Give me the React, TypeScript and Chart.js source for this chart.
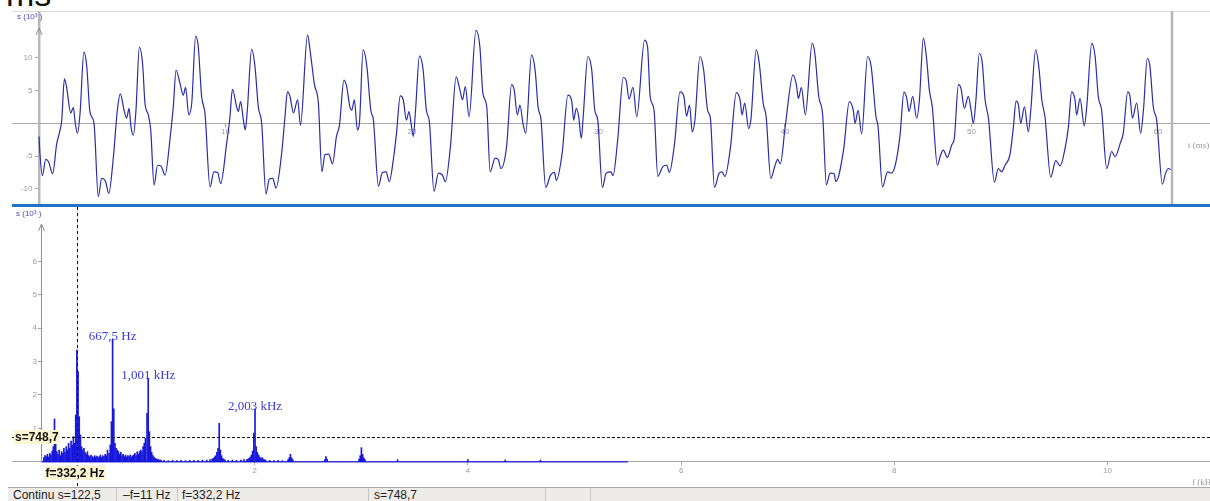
import React, { useEffect, useRef } from 'react';
import { Chart, registerables } from 'chart.js';

Chart.register(...registerables);

// ---------- top graph: recorded signal s(t) ----------
const waveTimeMs = [
  0, 0.05, 0.18, 0.36, 0.52, 0.73, 0.95, 1.09, 1.22, 1.36, 1.48, 1.70, 1.84, 1.95, 2.06, 2.20, 2.41, 2.56, 2.73, 2.95,
  3.18, 3.36, 3.56, 3.74, 3.99, 4.20, 4.36, 4.56, 4.70, 4.83, 4.93, 5.06, 5.20, 5.38, 5.56, 5.68, 5.86, 5.99,
  6.17, 6.36, 6.54, 6.76, 7.02, 7.20, 7.35, 7.56, 7.74, 7.86, 8.03, 8.19, 8.40, 8.54, 8.72, 8.90,
  9.17, 9.38, 9.58, 9.74, 10.06, 10.24, 10.37, 10.60, 10.69, 10.81, 10.96, 11.06, 11.17, 11.40, 11.58, 11.76, 11.94,
  12.17, 12.35, 12.53, 12.71, 13.01, 13.19, 13.32, 13.46, 13.64, 13.87, 14.02, 14.40, 14.55, 14.77, 14.98,
  15.17, 15.33, 15.53, 15.74, 15.95, 16.11, 16.35, 16.50, 16.67, 16.77, 16.91, 17.07, 17.18, 17.38, 17.58, 17.79, 17.93,
  18.20, 18.41, 18.61, 18.78, 19.02, 19.17, 19.37, 19.53, 19.70, 19.84, 19.95, 20.07, 20.19, 20.40, 20.60, 20.77, 20.93,
  21.18, 21.42, 21.63, 21.79, 22.06, 22.37, 22.57, 22.71, 22.86, 23.06, 23.43, 23.64, 23.80, 24.01,
  24.19, 24.46, 24.62, 24.77, 25.07, 25.34, 25.48, 25.65, 25.79, 25.95, 26.10, 26.41, 26.61, 26.76, 26.92,
  27.17, 27.43, 27.64, 27.74, 28.05, 28.36, 28.57, 28.67, 28.81, 28.94, 29.08, 29.18, 29.43, 29.64, 29.80, 29.96,
  30.21, 30.41, 30.66, 30.78, 31.03, 31.33, 31.48, 31.64, 31.85, 32.05, 32.47, 32.63, 32.77, 32.98,
  33.18, 33.45, 33.66, 33.80, 34.07, 34.37, 34.58, 34.72, 34.88, 35.03, 35.17, 35.44, 35.64, 35.85, 36.00,
  36.22, 36.47, 36.61, 36.78, 37.08, 37.39, 37.59, 37.70, 37.84, 38.05, 38.17, 38.46, 38.62, 38.83, 38.99,
  39.24, 39.45, 39.61, 39.75, 40.02, 40.43, 40.61, 40.72, 40.88, 41.09, 41.46, 41.60, 41.81, 42.02,
  42.22, 42.42, 42.63, 42.73, 43.14, 43.45, 43.66, 43.76, 43.92, 44.11, 44.43, 44.62, 44.88, 44.99,
  45.23, 45.50, 45.70, 45.92, 46.17, 46.38, 46.53, 46.65, 46.85, 47.06, 47.21, 47.42, 47.60, 47.74, 47.90,
  48.17, 48.35, 48.49, 48.71, 48.94, 49.08, 49.30, 49.44, 49.62, 49.83, 49.98, 50.10, 50.24, 50.42, 50.58, 50.73, 50.91,
  51.23, 51.44, 51.62, 51.80, 52.07, 52.25, 52.39, 52.52, 52.64, 52.84, 53.05, 53.18, 53.44, 53.62, 53.77, 53.94,
  54.25, 54.52, 54.75, 55.02, 55.20, 55.37, 55.55, 55.64, 55.82, 56.05, 56.18, 56.45, 56.63, 56.80, 56.98,
  57.25, 57.52, 57.70, 57.97, 58.14, 58.38, 58.50, 58.63, 58.86, 59.07, 59.22, 59.43, 59.57, 59.75, 59.93,
  60.24, 60.41, 60.56, 60.68,
];
const waveSignal = [
  -2.0, -4.6, -8.0, -5.5, -5.9, -7.7, -3.1, -1.5, 0.5, 6.8, 5.5, 1.6, 2.4, -0.1, -1.5, 1.5, 10.9, 8.7, 1.8, 0,
  -11.2, -8.4, -8.8, -10.7, -5.1, 2.0, 4.5, 2.0, 0.8, 2.3, -0.5, -1.8, 2.0, 11.6, 8.9, 3.1, 1.3, -1.0,
  -9.4, -6.4, -6.5, -7.9, -2.5, 2.5, 8.1, 6.1, 4.3, 5.5, 1.3, 3.1, 13.3, 11.7, 4.1, 1.5,
  -9.7, -7.4, -7.5, -9.2, -3.1, 1.0, 5.2, 2.5, 1.8, 3.3, 0.5, -1.0, 2.0, 11.3, 8.7, 2.5, 0,
  -10.8, -8.5, -8.4, -9.9, -4.6, 1.0, 4.8, 4.1, 1.6, 3.6, -0.3, 13.5, 10.8, 5.9, 3.1,
  -7.4, -4.8, -4.7, -6.2, -2.0, -0.3, 6.6, 5.6, 2.5, 2.0, 3.6, -1.0, 0, 11.2, 8.7, 2.0, 0.5,
  -9.6, -7.5, -7.4, -8.9, -5.1, -1.5, 4.2, 3.6, 0.5, 1.8, 0, -2.0, 2.0, 10.3, 8.1, 2.0, 0.3,
  -10.4, -7.6, -7.9, -8.9, -3.6, 7.1, 5.1, 3.6, 5.6, 1.0, 14.2, 11.7, 4.6, 2.5,
  -7.4, -5.3, -5.5, -6.9, -3.6, 5.9, 5.1, 1.3, 2.8, 0, -1.5, 10.4, 7.9, 2.5, 0.5,
  -9.8, -7.9, -7.5, -8.7, -4.6, 4.3, 3.3, 0.5, 2.3, 1.0, -2.3, 1.0, 10.2, 8.1, 2.0, 0.5,
  -9.8, -7.6, -7.4, -8.0, -2.5, 7.0, 6.6, 3.7, 5.5, 1.0, 12.7, 11.7, 4.1, 2.0,
  -8.1, -6.6, -6.4, -7.5, -3.3, 4.8, 4.1, 1.1, 2.8, -1.3, 0.5, 10.2, 8.1, 2.0, 0.8,
  -9.8, -7.6, -7.4, -8.1, -3.6, 4.7, 3.6, 1.3, 3.1, -0.8, 0.5, 11.2, 9.2, 3.1, 1.0,
  -8.4, -6.6, -5.5, -6.2, -0.3, 7.4, 5.9, 3.8, 5.5, 1.3, 12.2, 10.7, 4.1, 1.3,
  -9.4, -7.6, -7.7, -8.9, -4.1, 3.3, 2.0, 0, 2.0, -1.6, 10.2, 8.7, 1.0, -0.5,
  -9.7, -7.4, -7.6, -6.3, -1.8, 4.8, 3.8, 1.8, 4.1, 0.8, 3.6, 13.0, 9.7, 5.1, 2.5,
  -6.4, -4.8, -4.1, -5.2, -3.3, -2.3, 5.9, 5.3, 2.3, 4.1, 2.0, 0, 3.6, 10.7, 9.2, 3.6, 0.8,
  -9.0, -6.9, -7.4, -6.4, -4.7, -0.5, 3.4, 2.8, 0, 2.5, -1.3, 2.0, 11.2, 8.4, 3.6, 1.0,
  -8.2, -5.7, -6.5, -3.8, -0.5, 4.8, 3.6, 1.3, 3.8, -0.4, 2.5, 12.2, 10.2, 4.1, 2.0,
  -6.9, -4.3, -5.1, -3.1, -1.5, 4.8, 4.1, 0.8, 3.1, -1.5, 2.0, 9.9, 8.7, 2.5, 0.5,
  -9.3, -7.6, -6.9, -7.1,
];
const timeTicks = [10, 20, 30, 40, 50, 60];
const signalTicks = [-10, -5, 5, 10];
const acquisitionEndMs = 60.75;

// ---------- bottom graph: spectrum ----------
const spectrumFreqKHz = [
  0.022, 0.033, 0.044, 0.055, 0.066, 0.077, 0.088, 0.100, 0.111, 0.122, 0.133, 0.144, 0.155, 0.166, 0.177, 0.188,
  0.199, 0.210, 0.221, 0.232, 0.243, 0.254, 0.265, 0.277, 0.288, 0.299, 0.310, 0.321, 0.332, 0.343, 0.354, 0.365,
  0.376, 0.387, 0.398, 0.409, 0.420, 0.431, 0.442, 0.453, 0.464, 0.475, 0.486, 0.498, 0.509, 0.520, 0.531, 0.542,
  0.553, 0.564, 0.575, 0.586, 0.597, 0.608, 0.619, 0.634, 0.645, 0.656, 0.667, 0.678, 0.689, 0.700, 0.711, 0.722,
  0.733, 0.744, 0.755, 0.766, 0.777, 0.788, 0.799, 0.810, 0.821, 0.832, 0.843, 0.854, 0.865, 0.876, 0.887, 0.898,
  0.909, 0.920, 0.931, 0.942, 0.953, 0.964, 0.975, 0.990, 1.001, 1.012, 1.023, 1.034, 1.045, 1.056, 1.067, 1.078,
  1.089, 1.100, 1.111, 1.122, 1.150, 1.190, 1.230, 1.270, 1.310, 1.350, 1.390, 1.430, 1.470, 1.510, 1.550, 1.580,
  1.601, 1.612, 1.623, 1.634, 1.645, 1.656, 1.667, 1.678, 1.689, 1.700, 1.711, 1.722, 1.750, 1.790, 1.830, 1.870,
  1.900, 1.925, 1.936, 1.947, 1.958, 1.969, 1.980, 1.992, 2.003, 2.014, 2.025, 2.036, 2.047, 2.058, 2.069, 2.080,
  2.091, 2.102, 2.140, 2.180, 2.220, 2.260, 2.313, 2.324, 2.335, 2.346, 2.357, 2.657, 2.668, 2.679, 2.979, 2.990,
  3.001, 3.012, 3.023, 3.034, 3.340, 4.000, 4.350, 4.680,
];
const spectrumAmp = [
  0.12, 0.18, 0.15, 0.22, 0.14, 0.25, 0.20, 0.32, 0.45, 1.28, 0.85, 0.30, 0.22, 0.35, 0.18, 0.30,
  0.25, 0.40, 0.28, 0.45, 0.35, 0.55, 0.40, 0.62, 0.50, 0.75, 0.55, 1.40, 3.34, 2.70, 1.35, 0.80,
  0.45, 0.35, 0.40, 0.28, 0.22, 0.30, 0.18, 0.15, 0.20, 0.15, 0.12, 0.18, 0.14, 0.17, 0.12, 0.15,
  0.20, 0.12, 0.18, 0.15, 0.22, 0.18, 0.35, 0.25, 0.50, 1.20, 3.67, 1.58, 0.55, 0.40, 0.35, 0.30,
  0.22, 0.28, 0.18, 0.22, 0.15, 0.20, 0.14, 0.18, 0.15, 0.20, 0.14, 0.18, 0.20, 0.25, 0.18, 0.30,
  0.22, 0.30, 0.35, 0.30, 0.45, 0.55, 0.70, 1.45, 2.50, 0.90, 0.45, 0.28, 0.18, 0.14, 0.10, 0.08,
  0.07, 0.06, 0.05, 0.05, 0.04, 0.03, 0.04, 0.03, 0.04, 0.03, 0.04, 0.04, 0.04, 0.05, 0.05, 0.06,
  0.08, 0.10, 0.14, 0.18, 0.28, 0.40, 1.15, 0.35, 0.18, 0.10, 0.07, 0.05, 0.04, 0.05, 0.04, 0.05,
  0.06, 0.06, 0.08, 0.10, 0.14, 0.20, 0.32, 0.86, 1.58, 0.45, 0.28, 0.20, 0.14, 0.10, 0.12, 0.08,
  0.06, 0.05, 0.04, 0.03, 0.04, 0.03, 0.06, 0.12, 0.22, 0.12, 0.06, 0.06, 0.15, 0.08, 0.08, 0.18,
  0.42, 0.22, 0.12, 0.06, 0.06, 0.06, 0.05, 0.05,
];
const spectrumEndKHz = 5.5;
const freqTicks = [2, 4, 6, 8, 10];
const ampTicks = [1, 2, 3, 4, 5, 6];
const peakFreqKHz = [0.6675, 1.001, 2.003];
const peakAmp = [3.67, 2.5, 1.58];
const peakLabels = ['667,5 Hz', '1,001 kHz', '2,003 kHz'];
const cursorFreqKHz = 0.3322;
const cursorAmp = 0.7487;
const cursorFreqLabel = 'f=332,2 Hz';
const cursorAmpLabel = 's=748,7';
const statusTexts = ['Continu s=122,5', '\u2013f=11 Hz', 'f=332,2 Hz', 's=748,7'];

const TICK_FONT = { family: '"Liberation Sans", Arial, sans-serif', size: 8 };
const TICK_COLOR = '#9c9c9c';

function noPad(s: any, horizontal: boolean) {
  if (horizontal) s.height = 0;
  else s.width = 0;
  s.paddingTop = 0;
  s.paddingBottom = 0;
  s.paddingLeft = 0;
  s.paddingRight = 0;
}

function drawArrow(ctx: CanvasRenderingContext2D, x: number, yTop: number) {
  ctx.beginPath();
  ctx.moveTo(x - 3, yTop + 7);
  ctx.lineTo(x, yTop);
  ctx.lineTo(x + 3, yTop + 7);
  ctx.stroke();
}

const waveDecor = {
  id: 'waveDecor',
  afterDraw(chart: any) {
    const { ctx, scales } = chart;
    const x = scales.x, y = scales.y;
    const x0 = x.getPixelForValue(0);
    ctx.save();
    ctx.strokeStyle = '#8e8e8e';
    ctx.lineWidth = 1;
    drawArrow(ctx, x0, 17);
    const xe = Math.round(x.getPixelForValue(acquisitionEndMs));
    ctx.strokeStyle = '#b6b6b6';
    ctx.lineWidth = 2.5;
    ctx.beginPath();
    ctx.moveTo(xe, 0);
    ctx.lineTo(xe, chart.height);
    ctx.stroke();
    ctx.fillStyle = '#4a4ab4';
    ctx.font = '8px "Liberation Sans", Arial, sans-serif';
    ctx.textBaseline = 'middle';
    ctx.fillText('s (10\u00b3 )', 5, 6);
    ctx.fillStyle = '#9a9a9a';
    ctx.font = '9px "Liberation Serif", serif';
    ctx.fillText('t (ms)', 1176, y.getPixelForValue(0) + 22);
    ctx.restore();
  },
};

const spectrumDecor = {
  id: 'spectrumDecor',
  beforeDatasetsDraw(chart: any) {
    const { ctx, scales } = chart;
    const x = scales.x, y = scales.y;
    const cx = Math.round(x.getPixelForValue(cursorFreqKHz)) + 0.5;
    ctx.save();
    ctx.strokeStyle = '#f1e16a';
    ctx.lineWidth = 1;
    ctx.beginPath();
    ctx.moveTo(cx, 0);
    ctx.lineTo(cx, y.getPixelForValue(0));
    ctx.stroke();
    ctx.restore();
  },
  afterDatasetsDraw(chart: any) {
    const { ctx, scales } = chart;
    const x = scales.x, y = scales.y;
    ctx.save();
    // y axis line with arrow
    const ax = Math.round(x.getPixelForValue(0)) + 0.5;
    ctx.strokeStyle = '#8e8e8e';
    ctx.lineWidth = 1;
    ctx.beginPath();
    ctx.moveTo(ax, 17);
    ctx.lineTo(ax, y.getPixelForValue(0));
    ctx.stroke();
    drawArrow(ctx, ax, 17);
    // titles
    ctx.fillStyle = '#4a4ab4';
    ctx.font = '8px "Liberation Sans", Arial, sans-serif';
    ctx.textBaseline = 'middle';
    ctx.fillText('s (10\u00b3 )', 4, 7);
    ctx.fillStyle = '#9a9a9a';
    ctx.font = '9px "Liberation Serif", serif';
    ctx.fillText('f (kHz)', 1180, y.getPixelForValue(0) + 21);
    // peak labels
    ctx.fillStyle = '#3a3ad2';
    ctx.font = '13px "Liberation Serif", serif';
    ctx.textAlign = 'center';
    ctx.textBaseline = 'alphabetic';
    peakLabels.forEach((txt, i) => {
      ctx.fillText(txt, x.getPixelForValue(peakFreqKHz[i]), y.getPixelForValue(peakAmp[i]) + 1);
    });
    // cursor lines
    const cx = Math.round(x.getPixelForValue(cursorFreqKHz)) + 0.5;
    const cy = Math.round(y.getPixelForValue(cursorAmp)) + 0.5;
    ctx.strokeStyle = '#111';
    ctx.setLineDash([3, 3]);
    ctx.beginPath();
    ctx.moveTo(cx, 0);
    ctx.lineTo(cx, chart.height);
    ctx.stroke();
    ctx.setLineDash([3, 2]);
    ctx.beginPath();
    ctx.moveTo(0, cy);
    ctx.lineTo(chart.width, cy);
    ctx.stroke();
    ctx.setLineDash([]);
    // cursor value boxes
    ctx.font = 'bold 12px "Liberation Sans", Arial, sans-serif';
    ctx.textAlign = 'left';
    ctx.textBaseline = 'middle';
    ctx.fillStyle = '#fbf5d2';
    ctx.fillRect(2, cy - 7.5, 46, 14);
    ctx.fillStyle = '#111';
    ctx.fillText(cursorAmpLabel, 3, cy);
    const fy = y.getPixelForValue(0) + 4;
    ctx.fillStyle = '#fbf5d2';
    ctx.fillRect(cx - 33, fy, 61, 14);
    ctx.fillStyle = '#111';
    ctx.fillText(cursorFreqLabel, cx - 32, fy + 7.5);
    ctx.restore();
  },
};

function WaveChart() {
  const ref = useRef<HTMLCanvasElement>(null);
  useEffect(() => {
    const chart = new Chart(ref.current as HTMLCanvasElement, {
      type: 'line',
      data: {
        datasets: [
          {
            data: waveTimeMs.map((t, i) => ({ x: t, y: waveSignal[i] })),
            borderColor: '#2b2baa',
            borderWidth: 1.2,
            pointRadius: 0,
            cubicInterpolationMode: 'monotone',
            fill: false,
          },
        ],
      },
      options: {
        animation: false,
        responsive: false,
        events: [],
        layout: { padding: 0 },
        plugins: { legend: { display: false }, tooltip: { enabled: false } },
        scales: {
          x: {
            type: 'linear',
            min: -1.448,
            max: 62.79,
            position: { y: 0 } as any,
            afterFit: (s: any) => noPad(s, true),
            afterBuildTicks: (s: any) => { s.ticks = timeTicks.map((value) => ({ value })); },
            grid: { drawOnChartArea: false, drawTicks: true, tickLength: 3, color: '#a4a4a4' },
            border: { color: '#a8a8a8', width: 1 },
            ticks: { font: TICK_FONT, color: TICK_COLOR, padding: 1, maxRotation: 0, autoSkip: false },
          },
          y: {
            type: 'linear',
            min: -12.47,
            max: 17.15,
            position: { x: 0 } as any,
            afterFit: (s: any) => noPad(s, false),
            afterBuildTicks: (s: any) => { s.ticks = signalTicks.map((value) => ({ value })); },
            grid: { drawOnChartArea: false, drawTicks: true, tickLength: 3, color: '#a4a4a4' },
            border: { color: '#b8b8b8', width: 2.5 },
            ticks: { font: TICK_FONT, color: TICK_COLOR, autoSkip: false, callback: (v: any) => `${v}   ` },
          },
        },
      },
      plugins: [waveDecor],
    });
    return () => chart.destroy();
  }, []);
  return (
    <canvas
      ref={ref}
      width={1198}
      height={194}
      style={{ position: 'absolute', left: 12, top: 11, width: 1198, height: 194, display: 'block' }}
    />
  );
}

function SpectrumChart() {
  const ref = useRef<HTMLCanvasElement>(null);
  useEffect(() => {
    const chart = new Chart(ref.current as HTMLCanvasElement, {
      type: 'bar',
      data: {
        datasets: [
          {
            type: 'bar',
            data: spectrumFreqKHz.map((f, i) => ({ x: f, y: spectrumAmp[i] })),
            backgroundColor: '#1818dc',
            borderWidth: 0,
            barThickness: 1,
            grouped: false,
          } as any,
          {
            type: 'line',
            data: [
              { x: 0, y: 0 },
              { x: spectrumEndKHz, y: 0 },
            ],
            borderColor: '#3434d4',
            borderWidth: 1.5,
            pointRadius: 0,
          } as any,
        ],
      },
      options: {
        animation: false,
        responsive: false,
        events: [],
        layout: { padding: 0 },
        plugins: { legend: { display: false }, tooltip: { enabled: false } },
        scales: {
          x: {
            type: 'linear',
            min: -0.2767,
            max: 10.961,
            offset: false,
            position: { y: 0 } as any,
            afterFit: (s: any) => noPad(s, true),
            afterBuildTicks: (s: any) => { s.ticks = freqTicks.map((value) => ({ value })); },
            grid: { offset: false, drawOnChartArea: false, drawTicks: true, tickLength: 3, color: '#a4a4a4' },
            border: { color: '#a6a6a6', width: 1 },
            ticks: { font: TICK_FONT, color: TICK_COLOR, padding: 1, maxRotation: 0, autoSkip: false },
          },
          y: {
            type: 'linear',
            min: -0.7275,
            max: 7.626,
            position: { x: 0 } as any,
            afterFit: (s: any) => noPad(s, false),
            afterBuildTicks: (s: any) => { s.ticks = ampTicks.map((value) => ({ value })); },
            grid: { drawOnChartArea: false, drawTicks: true, tickLength: 3, color: '#a4a4a4' },
            border: { display: false },
            ticks: { font: TICK_FONT, color: TICK_COLOR, autoSkip: false, callback: (v: any) => `${v}  ` },
          },
        },
      },
      plugins: [spectrumDecor],
    });
    return () => chart.destroy();
  }, []);
  return (
    <canvas
      ref={ref}
      width={1198}
      height={279}
      style={{ position: 'absolute', left: 12, top: 207, width: 1198, height: 279, display: 'block' }}
    />
  );
}

const statusLeft = [13, 123, 182, 374];
const statusDividers = [116, 177, 368, 545, 590];

export default function App() {
  return (
    <div
      style={{
        position: 'fixed',
        left: 0,
        top: 0,
        width: 1210,
        height: 501,
        overflow: 'hidden',
        background: '#ffffff',
        fontFamily: '"Liberation Sans", Arial, sans-serif',
      }}
    >
      <div style={{ position: 'absolute', left: 6, top: -23, fontSize: 34, lineHeight: '34px', color: '#111' }}>ms</div>
      <div style={{ position: 'absolute', left: 12, top: 11, width: 1198, height: 1, background: '#dcdcdc' }} />
      <WaveChart />
      <div style={{ position: 'absolute', left: 12, top: 204, width: 1198, height: 3, background: '#2273c8' }} />
      <SpectrumChart />
      <div
        style={{
          position: 'absolute',
          left: 8,
          top: 487,
          width: 1202,
          height: 14,
          background: '#eeece8',
          borderTop: '1px solid #a9a9a9',
        }}
      >
        {statusDividers.map((d, i) => (
          <div key={'d' + i} style={{ position: 'absolute', left: d - 8, top: 0, width: 1, height: 14, background: '#c9c7c2' }} />
        ))}
        {statusTexts.map((t, i) => (
          <span
            key={'t' + i}
            style={{ position: 'absolute', left: statusLeft[i] - 8, top: 0, fontSize: 12, lineHeight: '14px', color: '#1e1e1e', whiteSpace: 'nowrap' }}
          >
            {t}
          </span>
        ))}
      </div>
    </div>
  );
}
